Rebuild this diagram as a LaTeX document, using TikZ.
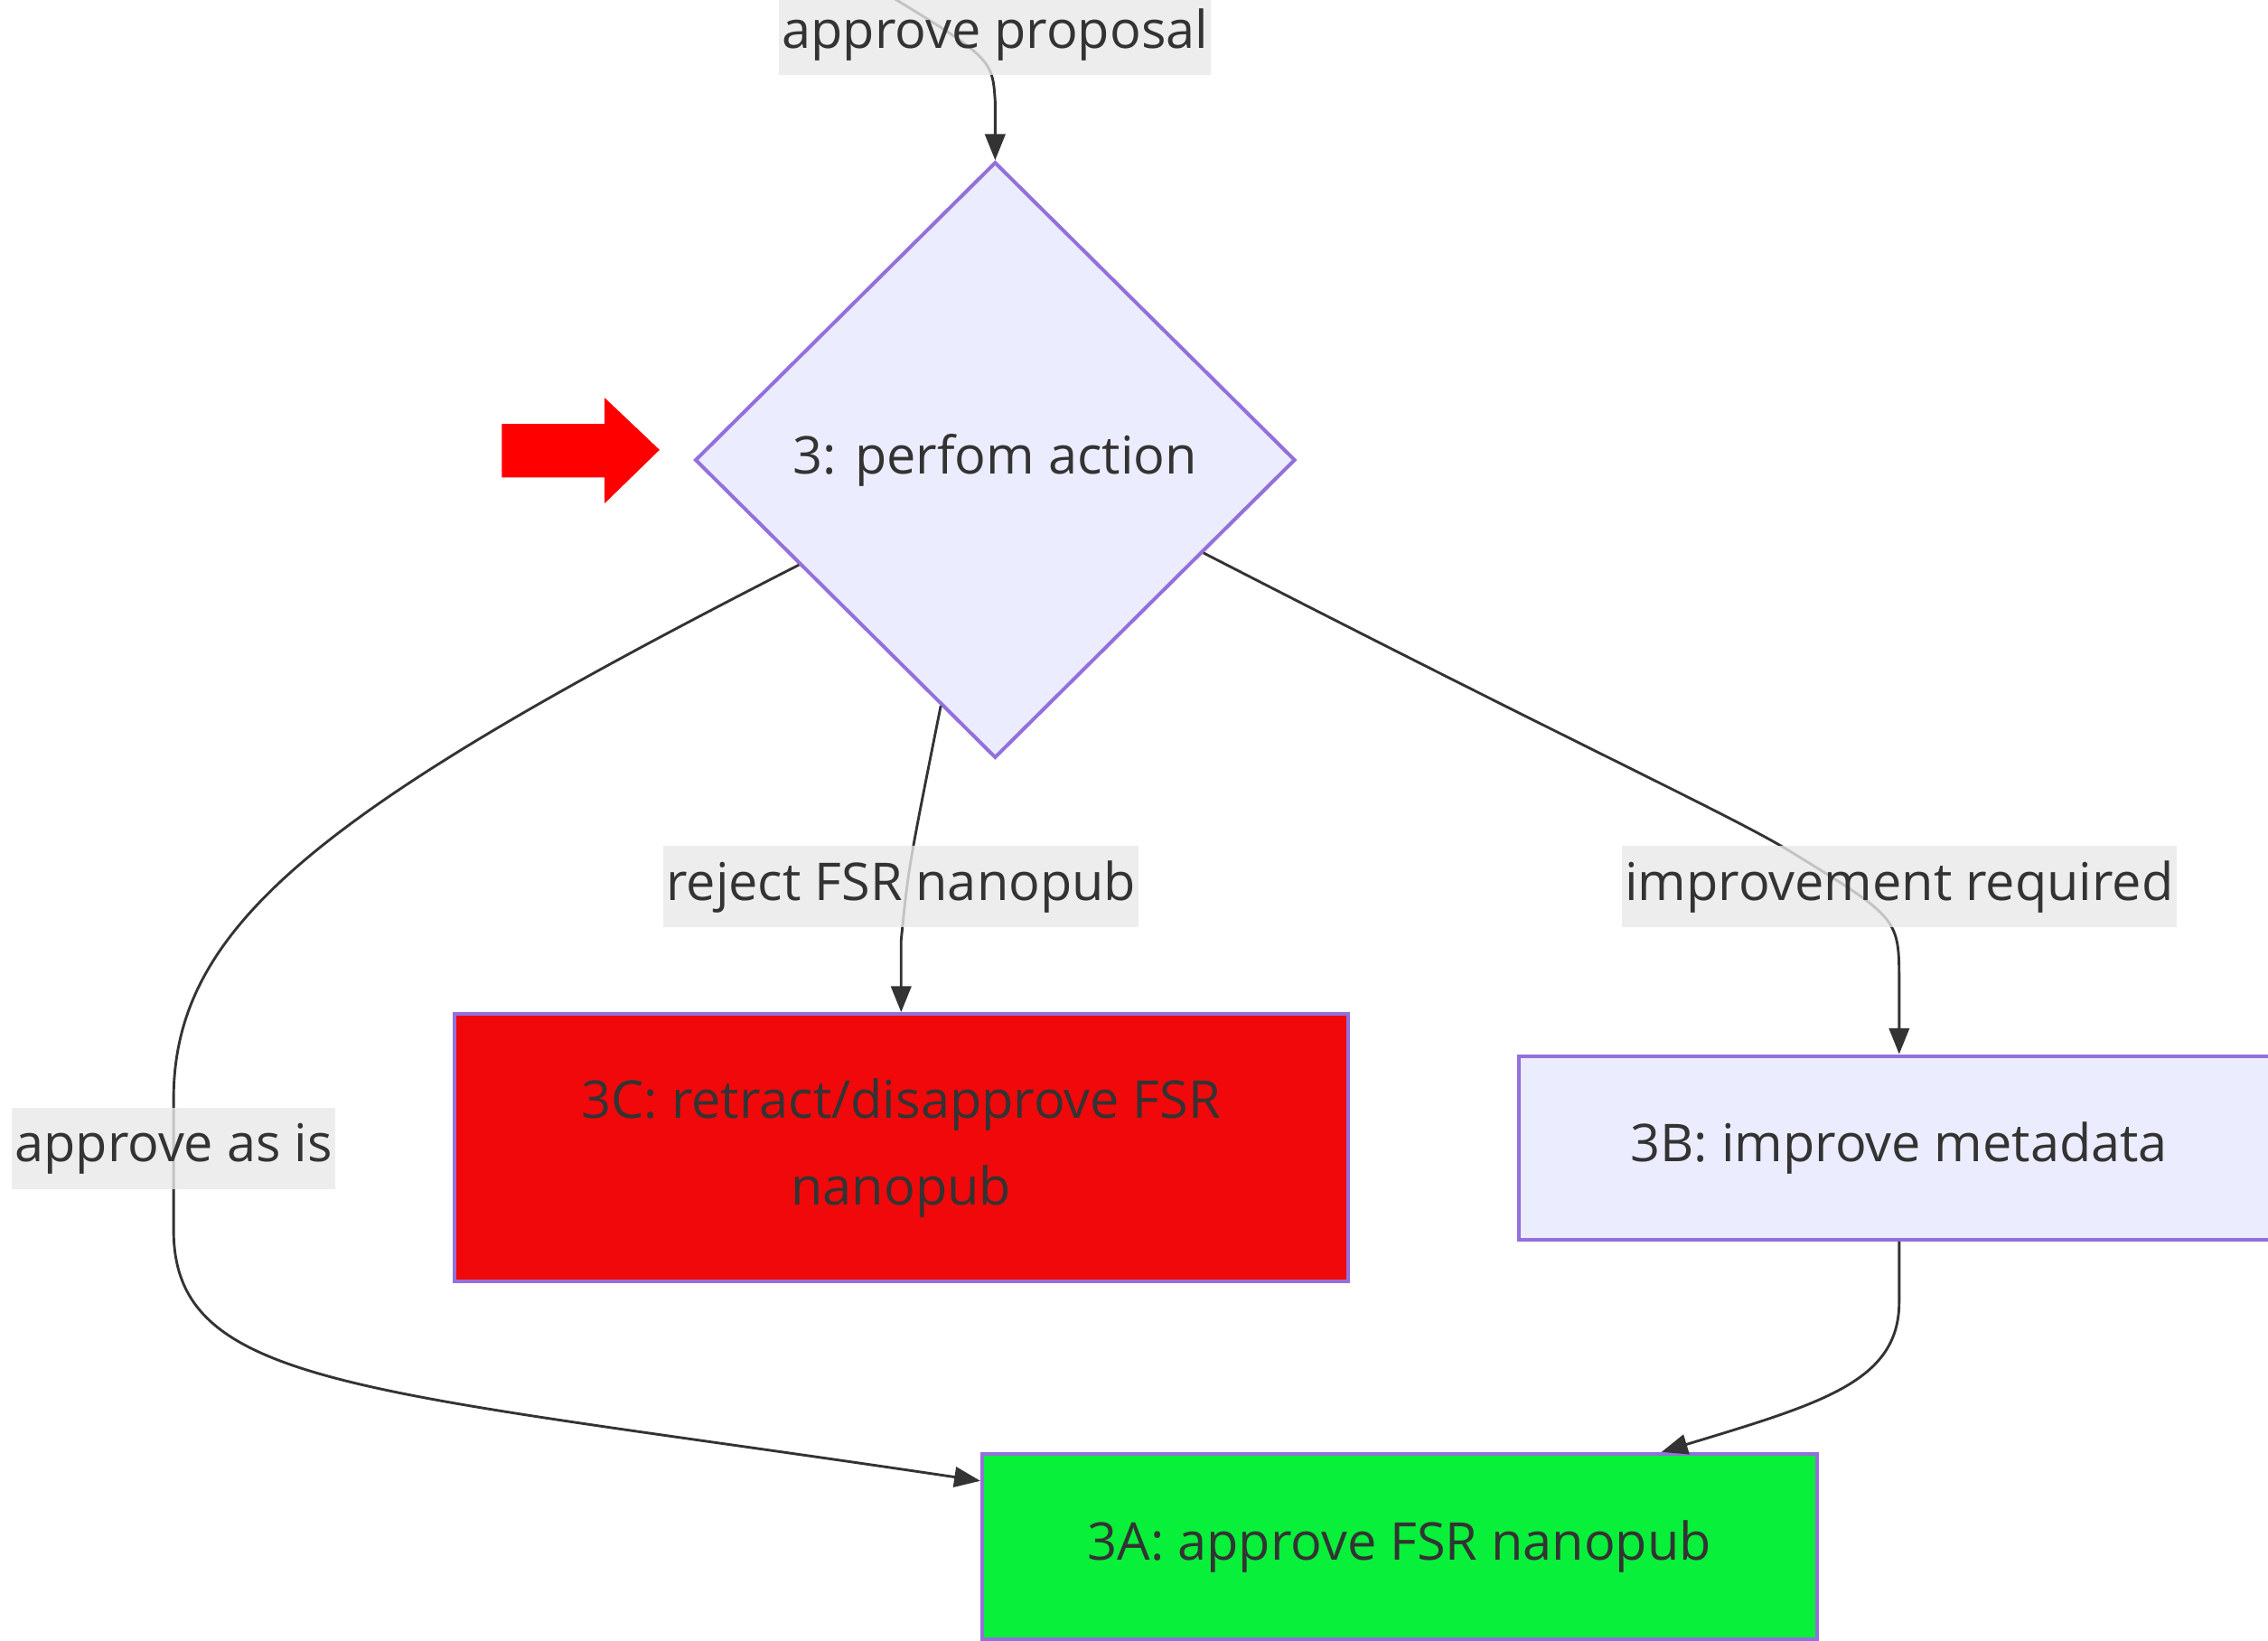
\documentclass[tikz,border=0pt]{standalone}
\usepackage{fontspec}
\setmainfont{Open Sans}
\usetikzlibrary{shapes.geometric, arrows.meta, calc}
\definecolor{mnode}{HTML}{ECECFF}
\definecolor{mline}{HTML}{9370DB}
\definecolor{medge}{HTML}{333333}
\definecolor{mlabel}{HTML}{E8E8E8}
\definecolor{mred}{RGB}{240,8,10}
\definecolor{mgreen}{RGB}{8,240,58}

\begin{document}
\begin{tikzpicture} [x = 1pt, y = -1pt,
  every node/.style = {font = \fontsize{36}{60}\selectfont, text = medge},
  box/.style = {draw = mline, line width = 2.5pt, fill = mnode, inner sep = 0pt, align = center},
  lbl/.style = {fill = mlabel, fill opacity = .8, text opacity = 1, inner xsep = 2pt, inner ysep = 0pt, minimum height = 56pt},
  edge/.style = {draw = medge, line width = 1.8pt, -{Triangle[length = 18pt, width = 14pt]}}]
\useasboundingbox (0,0) rectangle (1568,1134);
\node (act) [box, diamond, minimum width = 415pt, minimum height = 412pt] at (688,318) {\raisebox{-3pt}{3: perfom action}};
\node (c3) [box, fill = mred, minimum width = 618pt, minimum height = 185pt] at (623,793.5) {3C: retract/disapprove FSR\\nanopub};
\node (b3) [box, minimum width = 526pt, minimum height = 127pt] at (1313,793.5) {3B: improve metadata};
\node (a3) [box, fill = mgreen, minimum width = 577pt, minimum height = 128pt] at (967.5,1069) {3A: approve FSR nanopub};
\coordinate (in) at (600,-12);
\draw [edge] (in) .. controls (686,40) .. (688,70) -- (act.north);
\draw [edge] ($(act.west)!.35!(act.south)$) .. controls (220,560) and (120,640) .. (120,760) -- (120,850) .. controls (120,960) and (250,960) .. ($(a3.north west)+(0,20)$);
\draw [edge] ($(act.west)!.82!(act.south)$) .. controls (628,600) .. (623,650) -- (c3.north);
\draw [edge] ($(act.east)!.31!(act.south)$) .. controls (1100,520) and (1200,565) .. (1240,590) .. controls (1313,635) .. (1313,680) -- (b3.north);
\draw [edge] (b3.south) -- (1313,900) .. controls (1313,955) and (1260,970) .. ($(a3.north west)+(471,0)$);
\node (l0) [lbl] at (688,24) {approve proposal};
\node (l1) [lbl] at (120,794) {approve as is};
\node (l2) [lbl] at (623,613) {reject FSR nanopub};
\node (l3) [lbl] at (1313,613) {improvement required};
\fill [red] (347,293) -- (418,293) -- (418,275) -- (456,311) -- (418,348) -- (418,330) -- (347,330) -- cycle;
\end{tikzpicture}
\end{document}
